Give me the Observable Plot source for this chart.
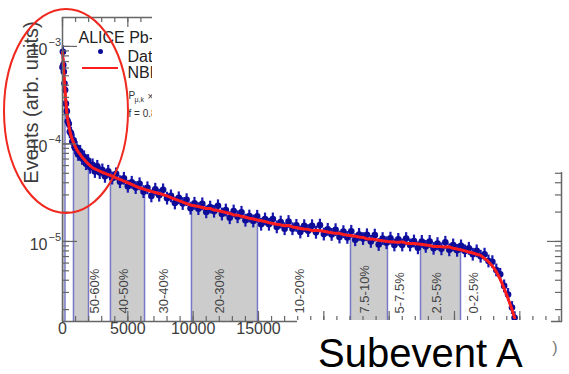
<!DOCTYPE html>
<html>
<head>
<meta charset="utf-8">
<script src="https://cdn.jsdelivr.net/npm/d3@7"></script>
<script src="https://cdn.jsdelivr.net/npm/@observablehq/plot@0.6"></script>
<style>
  html, body { margin: 0; padding: 0; background: #fff; }
</style>
</head>
<body>
<script>
// ---------- data (Events in units of 1e-6) ----------
const yUnit = 1e-6;

const fitX = [0, 60, 100, 150, 190, 260, 330, 400, 480, 560, 650, 750, 840, 960, 1080, 1200, 1350, 1500, 1650, 1800, 1990,
  2120, 2300, 2480, 2660, 2850, 3050, 3250, 3670, 4100, 4400, 4700, 5000, 5300, 5600, 5900, 6280, 6500, 6800, 7100, 7400,
  7700, 8000, 8300, 8600, 8900, 9200, 9500, 9870, 10100, 10400, 10700, 11000, 11300, 11600, 11900, 12200, 12500, 12800,
  13100, 13400, 13700, 14000, 14300, 14600, 14920, 15200, 15500, 15800, 16100, 16400, 16700, 17000, 17300, 17600, 17900,
  18200, 18500, 18800, 19100, 19400, 19700, 20000, 20300, 20600, 20900, 21200, 21500, 21800, 22040, 22400, 22700, 23000,
  23300, 23600, 23900, 24200, 24500, 24870, 25100, 25400, 25700, 26000, 26300, 26600, 26900, 27400, 27800, 28100, 28400,
  28700, 29000, 29300, 29600, 29900, 30200, 30460, 30800, 31100, 31400, 31700, 32000, 32300, 32600, 32900, 33200, 33500,
  33800, 34100, 34400, 34600];
const fitY = [870, 680, 530, 430, 360, 270, 210, 178, 155, 137, 122, 111, 103, 95, 88, 83, 78, 73, 69.5, 66, 62,
  60, 57, 55.5, 54, 52.5, 51, 50, 47.5, 44.8, 43.2, 41.5, 40, 38.5, 36.8, 35.5, 34.2, 33.5, 32.6, 31.8, 31,
  30.2, 29.3, 28.2, 27.2, 26.2, 25.3, 24.4, 23.5, 23.2, 22.8, 22.3, 21.8, 21.8, 21.0, 20.7, 20.3, 19.8, 19.4,
  18.7, 18.6, 18.1, 17.7, 17.3, 17.0, 16.6, 16.3, 16.0, 15.6, 15.3, 15.0, 14.8, 14.5, 14.6, 14.1, 13.9,
  13.6, 13.4, 13.3, 12.9, 13.0, 12.9, 12.7, 12.5, 12.3, 12.1, 12.1, 11.8, 11.6, 11.5, 11.3, 11.1, 11.0,
  10.6, 10.6, 10.5, 10.3, 10.15, 10.0, 9.95, 9.85, 9.8, 9.9, 9.6, 9.55, 9.5, 9.35, 9.2, 9.1, 8.85,
  8.9, 8.8, 8.75, 8.8, 8.5, 8.35, 8.22, 8.0, 7.8, 7.6, 7.4, 7.2, 6.7, 6.2, 5.6, 4.9, 4.1,
  3.3, 2.6, 2.0, 1.65];

const dataX = [0, 30, 60, 100, 150, 200, 260, 330, 400, 480, 560, 650, 750, 850, 960, 1080, 1200, 1350, 1500, 1650, 1800,
  1960, 2120, 2300, 2480, 2660, 2850, 3050, 3250, 3500, 3800, 4100, 4400, 4700, 5000, 5300, 5600, 5900, 6200, 6500, 6800,
  7100, 7400, 7700, 8000, 8300, 8600, 8900, 9200, 9500, 9800, 10100, 10400, 10700, 11000, 11300, 11600, 11900, 12200,
  12500, 12800, 13100, 13400, 13700, 14000, 14300, 14600, 14900, 15200, 15500, 15800, 16100, 16400, 16700, 17000, 17300,
  17600, 17900, 18200, 18500, 18800, 19100, 19400, 19700, 20000, 20300, 20600, 20900, 21200, 21500, 21800, 22100, 22400,
  22700, 23000, 23300, 23600, 23900, 24200, 24500, 24800, 25100, 25400, 25700, 26000, 26300, 26600, 26900, 27200, 27500,
  27800, 28100, 28400, 28700, 29000, 29300, 29600, 29900, 30200, 30500, 30800, 31100, 31400, 31700, 32000, 32300, 32600,
  32900, 33200, 33500, 33800, 34100, 34400, 34600];
const dataY = [610, 880, 645, 550, 417, 357, 259, 217, 171, 161, 133, 129, 105, 109, 91, 92, 78, 84, 71, 73.7, 62.7,
  67.5, 57.6, 61, 52.2, 58.9, 50.9, 54.1, 46.5, 52.4, 44.6, 49.3, 41, 44.4, 36.8, 40.4, 35.7, 39, 32.4, 35.5, 29.3,
  34.3, 29.8, 33.8, 27.8, 29.3, 24.8, 28, 24.5, 26.8, 21.9, 24.6, 21.7, 24.3, 20.1, 22.5, 20.4, 23.2, 19.1,
  21, 17.5, 20.5, 17.9, 19.9, 16.5, 18.2, 16.2, 18.1, 15, 17, 15, 17, 14.1, 15.8, 13.5, 16,
  13.5, 14.6, 12.5, 14.5, 12.9, 14.5, 12.4, 14.7, 11.9, 13.3, 11.8, 13.2, 11.1, 12.6, 11, 12.7, 10.4,
  11.8, 10.7, 11.7, 10, 11.6, 9.3, 10.7, 9.7, 10.8, 9.2, 10.5, 9.2, 10.7, 9.2, 10.1, 8.6, 10,
  8.9, 10, 8.5, 9.5, 8.4, 9.8, 8.2, 9.2, 8.1, 9, 8, 8.5, 7.4, 8, 7.05, 7.4, 6.3,
  6.2, 5.1, 4.6, 3.5, 2.86, 2.1, 1.65];
const relErr = 0.15;

const binEdges = [0, 190, 840, 1990, 3670, 6280, 9870, 14920, 22040, 24870, 27400, 30460, 33100];
const binLabels = ["", "", "", "50-60%", "40-50%", "30-40%", "20-30%", "10-20%", "7.5-10%", "5-7.5%", "2.5-5%", "0-2.5%"];
const binShaded = [true, false, true, false, true, false, true, false, true, false, true, false];

const xMajorTicks = [0, 5000, 10000, 15000, 20000, 25000, 30000, 35000];
const xLabelTicks = [0, 5000, 10000, 15000];
const xTickLabels = ["0", "5000", "10000", "15000"];
const yMajorTicks = [1e-3, 1e-4, 1e-5];
const yExpLabels = ["\u22123", "\u22124", "\u22125"];

// ---------- derived tables ----------
const fit = fitX.map((x, i) => ({x, y: fitY[i] * yUnit}));
const data = dataX.map((x, i) => ({x, y: dataY[i] * yUnit}));
const fitAt = x => fit.find(d => d.x === x).y;
const bins = binLabels.map((label, i) => ({lo: binEdges[i], hi: binEdges[i + 1], label, shaded: binShaded[i]}));
const edgeList = binEdges.slice(1, binEdges.length - 1);

const xDomain = [0, 38190];
const yDomain = [1.51e-6, 1.98e-3];
const xMinorTicks = d3.range(0, 38001, 1000);
const yMinorTicks = [];
for (let e = -6; e <= -3; e++) for (let m = 1; m <= 9; m++) {
  const v = m * Math.pow(10, e);
  if (v >= yDomain[0] && v <= yDomain[1]) yMinorTicks.push(v);
}

const W = 569, H = 374, mL = 62, mR = 8, mT = 17, mB = 53;
const fw = W - mL - mR, fh = H - mT - mB;

const blue = "#0c0c98";
const red = "#ff1c1c";
const axisCol = "#666";
const txtCol = "#3c3c3c";

const marks = [];
// shaded centrality bins
bins.filter(b => b.shaded).forEach(b => {
  marks.push(Plot.areaY(fit, {
    filter: d => d.x >= b.lo && d.x <= b.hi,
    x: "x", y1: yDomain[0], y2: "y", fill: "#cccccc"
  }));
});
marks.push(Plot.ruleX(edgeList, {x: d => d, y1: yDomain[0], y2: d => fitAt(d), stroke: "#7878c8", strokeWidth: 1.5}));
marks.push(Plot.text(bins.filter(b => b.label), {
  x: b => (b.lo + b.hi) / 2, frameAnchor: "bottom", text: "label", rotate: -90,
  textAnchor: "start", dy: -8, fontSize: 13, fill: "#444"
}));
// data
marks.push(Plot.ruleX(data, {x: "x", y1: d => d.y * (1 - relErr), y2: d => d.y * (1 + relErr), stroke: "#1818b0", strokeWidth: 2.2}));
marks.push(Plot.dot(data, {x: "x", y: "y", r: 3.3, fill: blue}));
// fit
marks.push(Plot.line(fit, {x: "x", y: "y", stroke: red, strokeWidth: 3}));
// frame and ticks
marks.push(Plot.frame({stroke: axisCol, strokeWidth: 1.5}));
marks.push(Plot.tickX(xMinorTicks, {x: d => d, insetTop: fh - 5, stroke: axisCol, strokeWidth: 1.2}));
marks.push(Plot.tickX(xMajorTicks, {x: d => d, insetTop: fh - 10, stroke: axisCol, strokeWidth: 1.2}));
marks.push(Plot.tickX(xMinorTicks, {x: d => d, insetBottom: fh - 5, stroke: axisCol, strokeWidth: 1.2}));
marks.push(Plot.tickX(xMajorTicks, {x: d => d, insetBottom: fh - 10, stroke: axisCol, strokeWidth: 1.2}));
marks.push(Plot.tickY(yMinorTicks, {y: d => d, insetRight: fw - 7, stroke: axisCol, strokeWidth: 1.2}));
marks.push(Plot.tickY(yMajorTicks, {y: d => d, insetRight: fw - 15, stroke: axisCol, strokeWidth: 1.2}));
marks.push(Plot.tickY(yMinorTicks, {y: d => d, insetLeft: fw - 6, stroke: axisCol, strokeWidth: 1.2}));
marks.push(Plot.tickY(yMajorTicks, {y: d => d, insetLeft: fw - 14, stroke: axisCol, strokeWidth: 1.2}));
// axis labels
marks.push(Plot.text(xLabelTicks, {x: d => d, text: (d, i) => xTickLabels[i], frameAnchor: "bottom", textAnchor: "middle", dy: 12, fontSize: 16, fill: txtCol}));
marks.push(Plot.text(yMajorTicks, {y: d => d, text: () => "10", frameAnchor: "left", textAnchor: "end", dx: -15, dy: 3, fontSize: 16, fill: txtCol}));
marks.push(Plot.text(yMajorTicks, {y: d => d, text: (d, i) => yExpLabels[i], frameAnchor: "left", textAnchor: "start", dx: -14, dy: -4, fontSize: 11, fill: txtCol}));
marks.push(Plot.text(["Events (arb. units)"], {frameAnchor: "top-left", textAnchor: "middle", dx: -39, dy: 85, rotate: -90, fontSize: 20, fill: txtCol}));
marks.push(Plot.text([")"], {frameAnchor: "bottom-right", textAnchor: "end", dx: -4, dy: 31, fontSize: 16, fill: "#777"}));
// legend
marks.push(Plot.text(["ALICE Pb-Pb"], {frameAnchor: "top-left", textAnchor: "start", dx: 16, dy: 14, fontSize: 16, fill: "#222"}));
marks.push(Plot.text(["Data"], {frameAnchor: "top-left", textAnchor: "start", dx: 65, dy: 33, fontSize: 16, fill: "#222"}));
marks.push(Plot.text(["NBD-Glauber fit"], {frameAnchor: "top-left", textAnchor: "start", dx: 65, dy: 49, fontSize: 16, fill: "#222"}));
marks.push(Plot.dot([0], {frameAnchor: "top-left", dx: 38, dy: 34, r: 2.5, fill: blue}));
marks.push(Plot.text(["P"], {frameAnchor: "top-left", textAnchor: "start", dx: 66, dy: 74, fontSize: 10, fill: "#333"}));
marks.push(Plot.text(["\u03bc,k"], {frameAnchor: "top-left", textAnchor: "start", dx: 72, dy: 80, fontSize: 7, fill: "#333"}));
marks.push(Plot.text(["\u00d7"], {frameAnchor: "top-left", textAnchor: "start", dx: 85, dy: 75, fontSize: 10, fill: "#333"}));
marks.push(Plot.text(["f = 0.801"], {frameAnchor: "top-left", textAnchor: "start", dx: 66, dy: 92, fontSize: 10, fill: "#333"}));

const svg = Plot.plot({
  width: W, height: H,
  marginLeft: mL, marginRight: mR, marginTop: mT, marginBottom: mB,
  x: {domain: xDomain, axis: null},
  y: {type: "log", domain: yDomain, axis: null},
  style: {fontFamily: "'Liberation Sans', Arial, sans-serif", background: "#fff"},
  marks
});
document.body.appendChild(svg);

// slide decorations: legend line, covering panels, caption, highlight ellipse
const s = d3.select(svg);
s.append("line").attr("x1", 82).attr("x2", 118).attr("y1", 68).attr("y2", 68)
  .attr("stroke", red).attr("stroke-width", 2.2);
s.append("rect").attr("x", 152).attr("y", 0).attr("width", W - 152).attr("height", 172).attr("fill", "#fff");
s.append("rect").attr("x", 297).attr("y", 320).attr("width", 254).attr("height", H - 320).attr("fill", "#fff");
s.append("text").attr("x", 318).attr("y", 367).text("Subevent A")
  .attr("text-anchor", "start")
  .attr("font-family", "'Liberation Sans', Arial, sans-serif").attr("font-size", 40).attr("fill", "#000");
s.append("ellipse").attr("cx", 66).attr("cy", 111).attr("rx", 62).attr("ry", 102)
  .attr("fill", "none").attr("stroke", "#f0281e").attr("stroke-width", 2);
</script>
</body>
</html>
